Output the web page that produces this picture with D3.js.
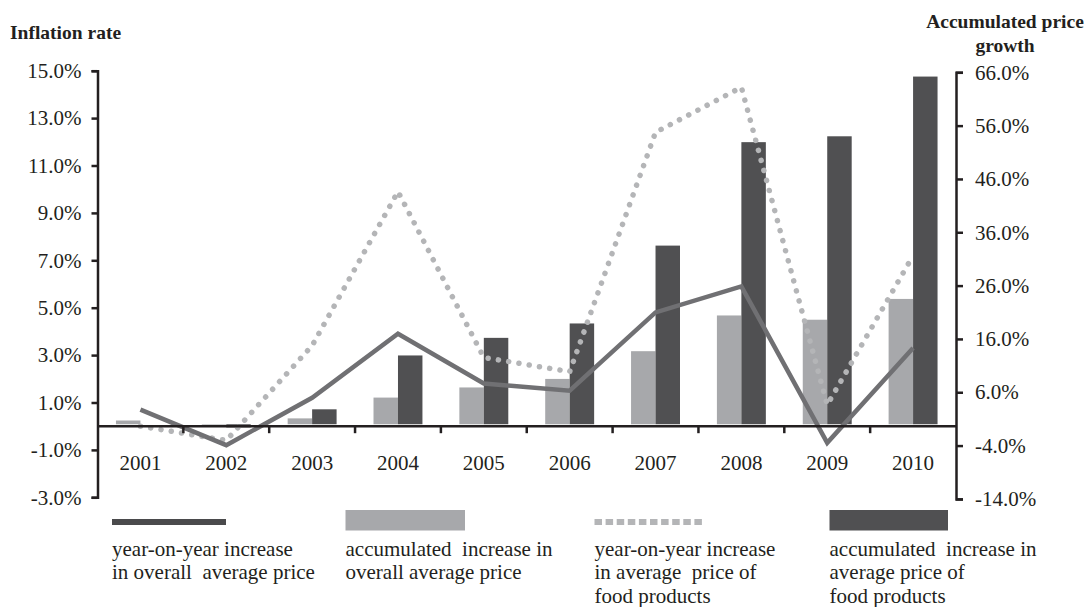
<!DOCTYPE html>
<html>
<head>
<meta charset="utf-8">
<script src="https://cdn.jsdelivr.net/npm/d3@7"></script>
<style>
  html, body { margin: 0; padding: 0; background: #fff; }
  svg { display: block; font-family: "Liberation Serif", "Times New Roman", serif; }
</style>
</head>
<body>
<svg id="chart" width="1085" height="607"></svg>
<script>
// ---- data ----
const years = ["2001","2002","2003","2004","2005","2006","2007","2008","2009","2010"];
const yoyOverall = [0.7, -0.8, 1.2, 3.9, 1.8, 1.5, 4.8, 5.9, -0.7, 3.3];        // left axis, %
const yoyFood    = [0.0, -0.6, 3.4, 9.9, 2.9, 2.3, 12.4, 14.3, 0.9, 7.2];       // left axis, %
const accOverall = [0.7, -0.1, 1.1, 5.0, 6.9, 8.5, 13.7, 20.4, 19.6, 23.5];     // right axis, %
const accFood    = [0.0, -0.6, 2.8, 12.9, 16.2, 18.9, 33.5, 52.9, 54.0, 65.2];  // right axis, %
const leftTicks  = [-3, -1, 1, 3, 5, 7, 9, 11, 13, 15];
const rightTicks = [-14, -4, 6, 16, 26, 36, 46, 56, 66];
const legendItems = [
  { key: "yoyOverall", lines: ["year-on-year increase", "in overall\u00a0 average price"] },
  { key: "accOverall", lines: ["accumulated\u00a0 increase in", "overall average price"] },
  { key: "yoyFood",    lines: ["year-on-year increase", "in average\u00a0 price of", "food products"] },
  { key: "accFood",    lines: ["accumulated\u00a0 increase in", "average price of", "food products"] }
];

// ---- styles ----
const C = {
  axis: "#231f20", text: "#231f20",
  light: "#a7a8ab", dark: "#505052",
  solid: "#707073", solidLegend: "#4a4a4c", dotted: "#b4b5b7"
};

const svg = d3.select("#chart");
const x0 = 97.5, x1 = 956, yTop = 70.7, yBot = 497.3;

const x = d3.scaleBand().domain(years).range([x0, x1]).paddingInner(0).paddingOuter(0);
const bw = x.bandwidth();
const sub = d3.scaleBand().domain(["overall", "food"]).range([bw * 0.215, bw * 0.785]).padding(0);
const yL = d3.scaleLinear().domain([-3, 15]).range([yBot, yTop]);
const yR = d3.scaleLinear().domain([-14, 66]).range([yBot + 1.6, yTop + 1.6]);

// ---- bars ----
const barData = years.map((y, i) => ({ year: y, overall: accOverall[i], food: accFood[i] }));
const g = svg.append("g");
g.selectAll("g.grp").data(barData).join("g")
  .attr("transform", d => `translate(${x(d.year)},0)`)
  .selectAll("rect").data(d => [{ k: "overall", v: d.overall }, { k: "food", v: d.food }]).join("rect")
  .attr("x", d => sub(d.k))
  .attr("width", sub.bandwidth())
  .attr("y", d => Math.min(yR(d.v), yR(0)))
  .attr("height", d => Math.abs(yR(d.v) - yR(0)))
  .attr("fill", d => d.k === "overall" ? C.light : C.dark);

// ---- lines ----
const cx = d => x(d) + bw / 2;
const line = d3.line().x((d, i) => cx(years[i])).y(d => yL(d));

svg.append("path").attr("d", line(yoyFood))
  .attr("fill", "none").attr("stroke", C.dotted).attr("stroke-width", 5.5)
  .attr("stroke-linecap", "round").attr("stroke-linejoin", "round").attr("stroke-dasharray", "0.1 10.3");

svg.append("path").attr("d", line(yoyOverall))
  .attr("fill", "none").attr("stroke", C.solid).attr("stroke-width", 4.5)
  .attr("stroke-linejoin", "miter");

// ---- axes ----
const fmt = d => d.toFixed(1) + "%";
const axL = svg.append("g").attr("transform", `translate(${x0},0)`)
  .call(d3.axisLeft(yL).tickValues(leftTicks).tickFormat(fmt).tickSizeInner(6).tickSizeOuter(6).tickPadding(10));
const axR = svg.append("g").attr("transform", `translate(${x1},0)`)
  .call(d3.axisRight(yR).tickValues(rightTicks).tickFormat(fmt).tickSizeInner(7).tickSizeOuter(7).tickPadding(12));
[axL, axR].forEach(a => {
  a.select(".domain").attr("stroke", C.axis).attr("stroke-width", 2.5);
  a.selectAll(".tick line").attr("stroke", C.axis).attr("stroke-width", 2.5);
  a.selectAll(".tick text").attr("fill", C.text).attr("font-size", 21)
    .attr("font-family", '"Liberation Serif", "Times New Roman", serif');
});

// x axis at left 0
const y0 = yL(0);
svg.append("line").attr("x1", x0).attr("x2", x1).attr("y1", y0).attr("y2", y0)
  .attr("stroke", C.axis).attr("stroke-width", 2.5);
const bounds = years.slice(1).map(y => x(y));
svg.selectAll("line.xt").data(bounds).join("line")
  .attr("x1", d => d).attr("x2", d => d).attr("y1", y0).attr("y2", y0 + 7)
  .attr("stroke", C.axis).attr("stroke-width", 2.5);
svg.selectAll("text.xl").data(years).join("text")
  .attr("x", d => cx(d)).attr("y", y0 + 43.5)
  .attr("text-anchor", "middle").attr("font-size", 21).attr("fill", C.text)
  .text(d => d);

// ---- titles ----
svg.append("text").attr("x", 10).attr("y", 39).attr("font-size", 19.5).attr("font-weight", "bold")
  .attr("fill", C.text).text("Inflation rate");
svg.append("text").attr("x", 1005).attr("y", 28).attr("text-anchor", "middle").attr("font-size", 19.5)
  .attr("font-weight", "bold").attr("fill", C.text).text("Accumulated price");
svg.append("text").attr("x", 1005).attr("y", 52).attr("text-anchor", "middle").attr("font-size", 19.5)
  .attr("font-weight", "bold").attr("fill", C.text).text("growth");

// ---- legend ----
const legX = [112, 345.5, 594.5, 829.5];
const legW = [114, 119.5, 111, 118.5];
const lg = svg.selectAll("g.leg").data(legendItems).join("g")
  .attr("transform", (d, i) => `translate(${legX[i]},0)`);
lg.each(function(d, i) {
  const s = d3.select(this);
  if (d.key === "yoyOverall") {
    s.append("line").attr("x1", 0).attr("x2", legW[i]).attr("y1", 522).attr("y2", 522)
      .attr("stroke", C.solidLegend).attr("stroke-width", 6);
  } else if (d.key === "yoyFood") {
    s.append("line").attr("x1", 0).attr("x2", legW[i]).attr("y1", 522).attr("y2", 522)
      .attr("stroke", C.dotted).attr("stroke-width", 6).attr("stroke-dasharray", "7.5 3.6");
  } else {
    s.append("rect").attr("x", 0).attr("y", 510).attr("width", legW[i]).attr("height", 20.5)
      .attr("fill", d.key === "accOverall" ? C.light : C.dark);
  }
  s.selectAll("text").data(d.lines).join("text")
    .attr("x", 0).attr("y", (t, j) => 555.5 + j * 23.5)
    .attr("font-size", 21).attr("fill", C.text).text(t => t);
});
</script>
</body>
</html>
